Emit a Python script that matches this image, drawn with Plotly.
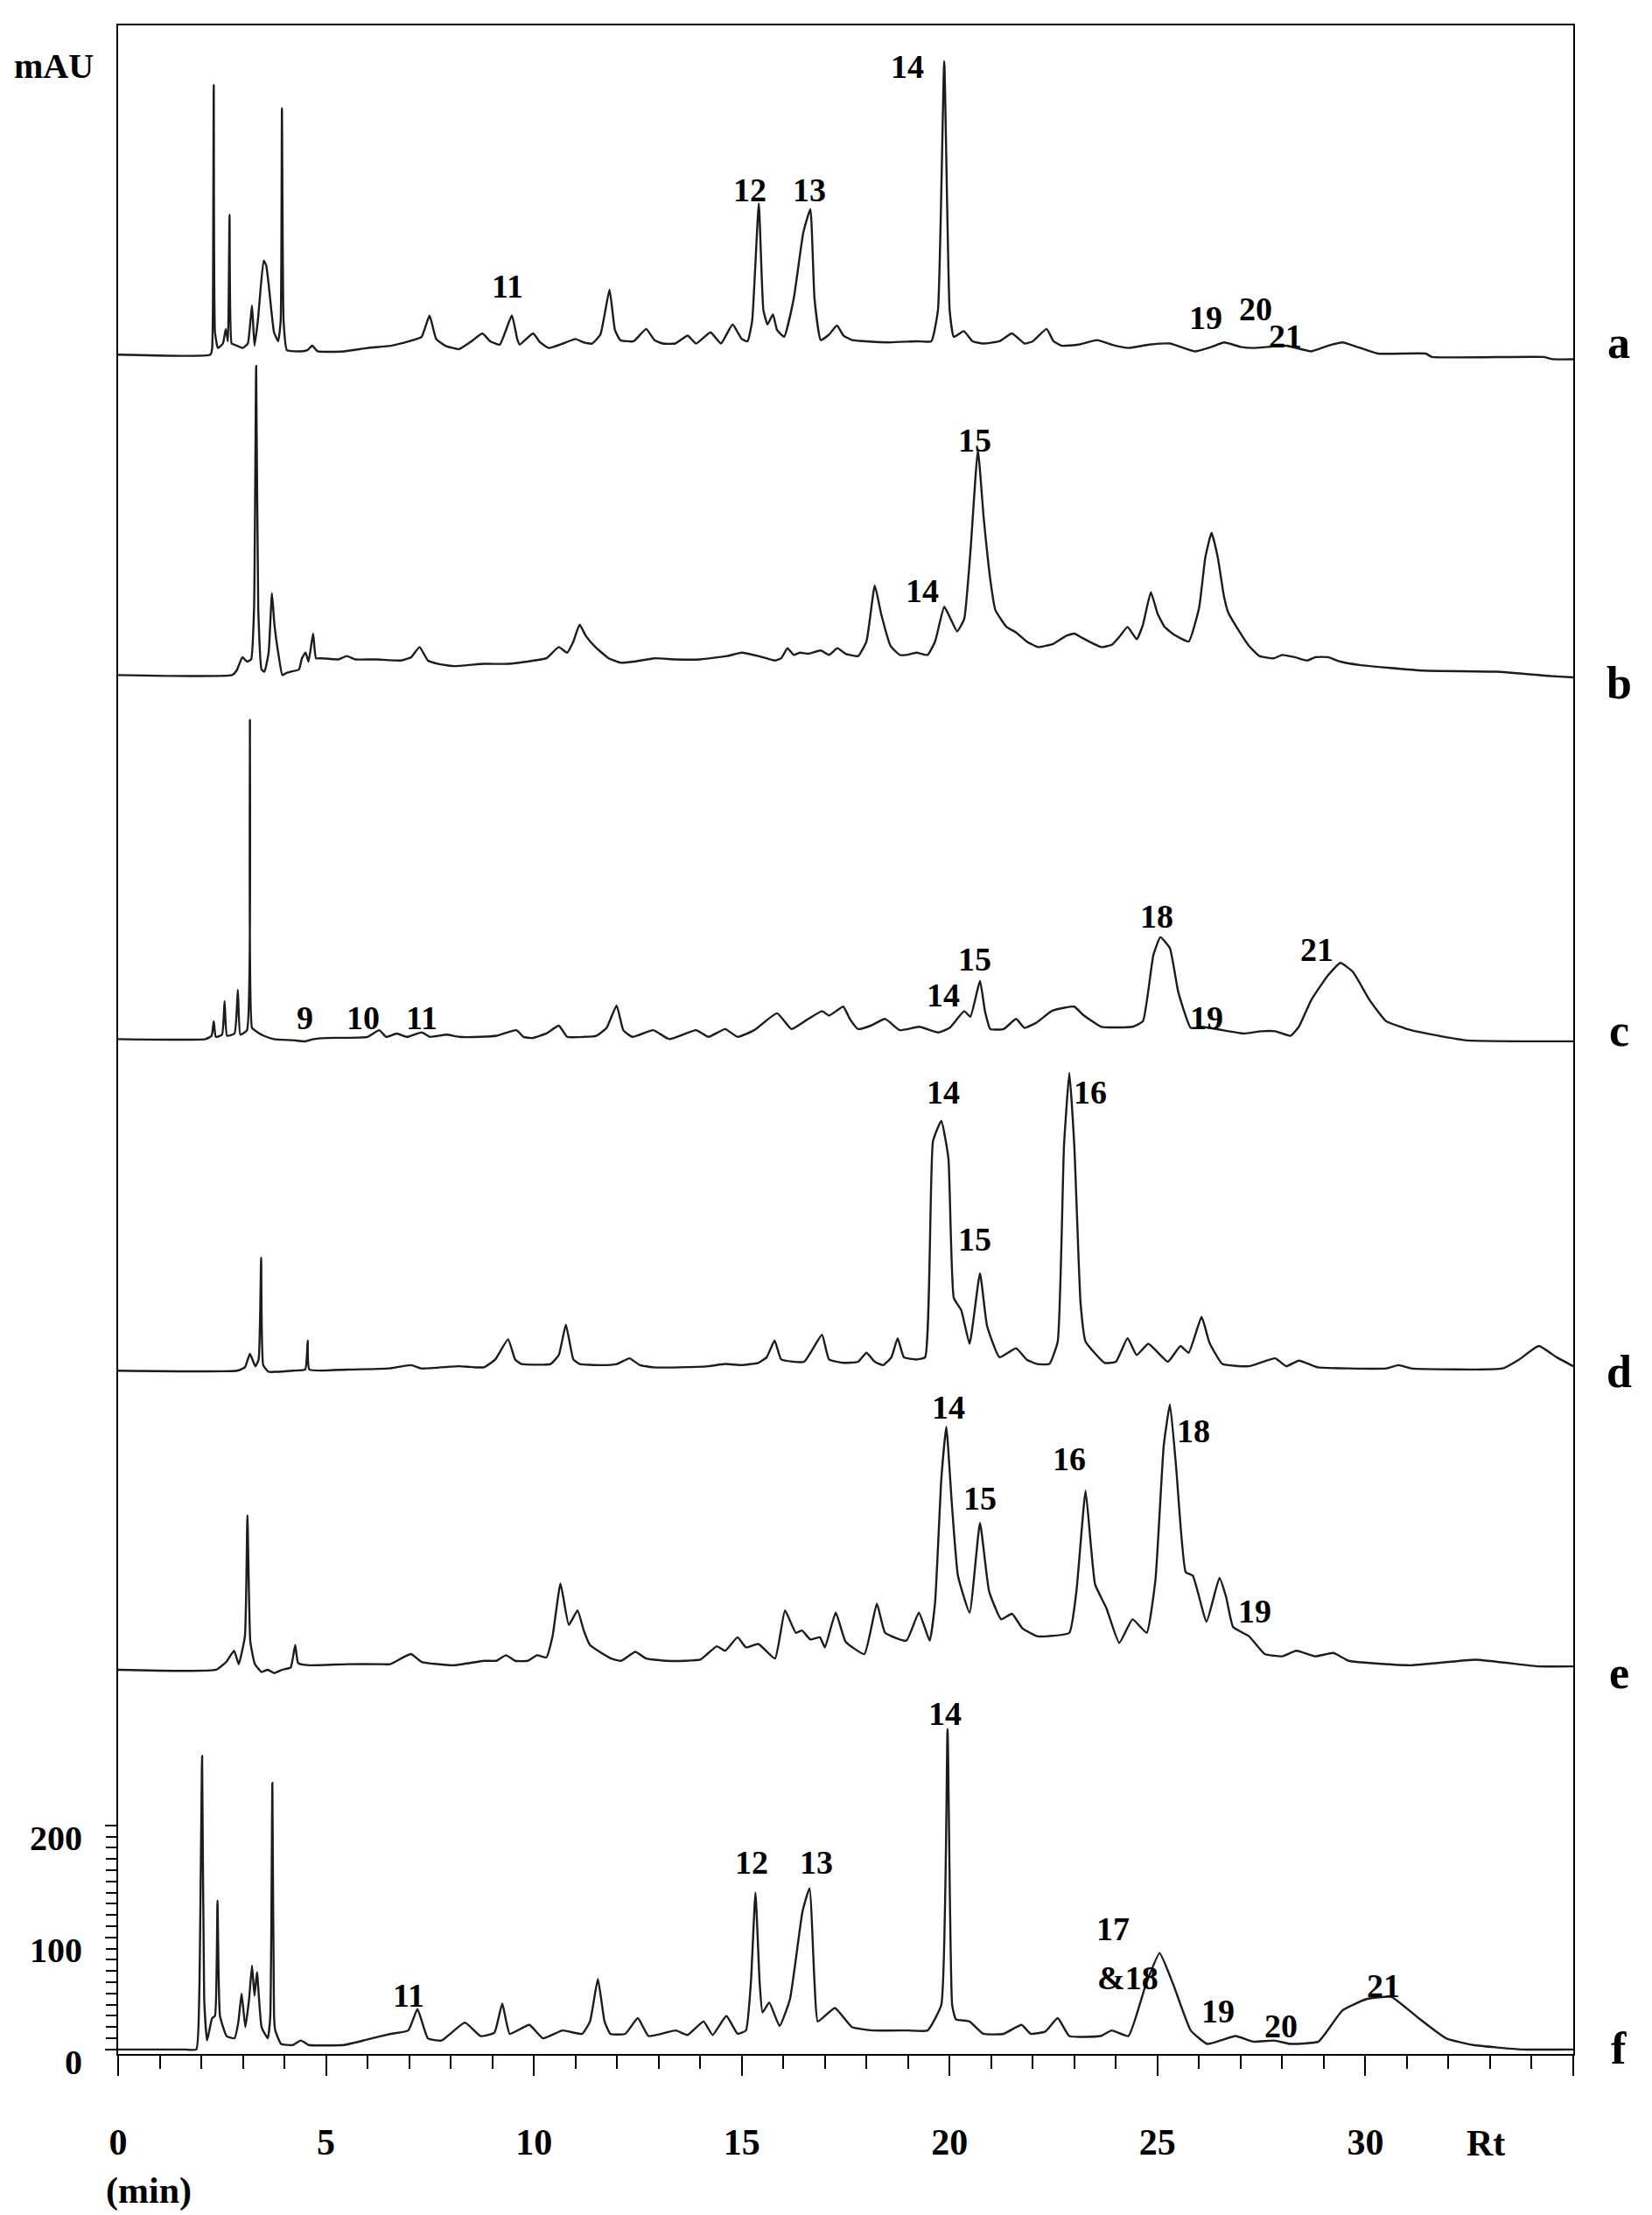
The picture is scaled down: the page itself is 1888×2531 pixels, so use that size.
import numpy as np
import plotly.graph_objects as go

# chromatograms: (retention time in min, signal in mAU above the trace's own baseline)
trace_a = [(0, 0), (2.22, 0), (2.26, 5), (2.28, 39), (2.30, 241), (2.33, 20), (2.40, 6), (2.52, 10),
           (2.59, 23), (2.64, 12), (2.68, 125), (2.73, 10), (2.80, 9), (3.0, 6), (3.12, 10), (3.22, 44),
           (3.28, 8), (3.36, 30), (3.50, 84), (3.56, 80), (3.62, 63), (3.75, 20), (3.85, 12), (3.91, 30),
           (3.94, 220), (3.98, 30), (4.06, 4), (4.4, 3), (4.55, 4), (4.67, 8), (4.8, 3), (5.43, 3),
           (6.0, 6), (6.56, 8), (7.0, 12), (7.3, 16), (7.49, 35), (7.65, 14), (7.87, 8), (8.2, 5),
           (8.5, 12), (8.76, 19), (8.95, 12), (9.18, 9), (9.47, 35), (9.6, 14), (9.66, 9), (9.98, 19),
           (10.15, 11), (10.36, 6), (10.7, 10), (11.0, 14), (11.2, 11), (11.4, 10), (11.6, 18),
           (11.82, 58), (11.95, 22), (12.08, 13), (12.4, 12), (12.7, 23), (12.9, 13), (13.1, 10),
           (13.4, 10), (13.7, 17), (13.9, 10), (14.25, 20), (14.5, 10), (14.78, 27), (15.0, 14),
           (15.14, 12), (15.25, 30), (15.41, 135), (15.52, 40), (15.62, 27), (15.75, 36), (15.85, 22),
           (16.02, 16), (16.25, 50), (16.48, 109), (16.65, 130), (16.75, 50), (16.9, 13), (17.1, 18),
           (17.29, 26), (17.45, 17), (17.66, 13), (18.5, 11), (19.2, 12), (19.56, 12), (19.72, 40),
           (19.87, 262), (20.0, 40), (20.1, 16), (20.34, 21), (20.55, 12), (20.8, 10), (21.2, 12),
           (21.5, 19), (21.8, 10), (22.0, 12), (22.33, 23), (22.5, 12), (22.7, 8), (23.1, 9),
           (23.55, 13), (23.9, 9), (24.3, 6), (24.8, 9), (25.3, 10), (25.9, 3), (26.3, 7), (26.6, 11),
           (27.0, 7), (27.3, 6), (28.1, 8), (28.7, 3), (29.1, 8), (29.45, 11), (29.8, 7), (30.3, 1),
           (31.45, 1), (31.6, -2), (34.3, -2), (34.5, -4), (35.0, -4)]

trace_b = [(0, 0), (2.74, 0), (2.85, 4), (2.99, 16), (3.1, 12), (3.2, 14), (3.27, 60), (3.32, 276),
           (3.37, 60), (3.45, 5), (3.52, 3), (3.62, 20), (3.70, 73), (3.76, 45), (3.85, 20), (3.95, 0),
           (4.05, 2), (4.15, 3), (4.35, 5), (4.42, 15), (4.51, 20), (4.58, 12), (4.69, 37), (4.76, 15),
           (4.9, 15), (5.3, 14), (5.5, 17), (5.7, 14), (6.2, 14), (6.8, 13), (7.05, 16), (7.25, 25),
           (7.45, 13), (7.7, 10), (8.06, 8), (8.8, 10), (9.4, 10), (9.83, 12), (10.3, 15), (10.6, 25),
           (10.8, 20), (10.95, 30), (11.1, 45), (11.25, 35), (11.48, 25), (11.8, 15), (12.1, 11),
           (12.4, 12), (12.9, 15), (13.4, 14), (14.0, 14), (14.65, 17), (15.0, 20), (15.4, 17),
           (15.8, 13), (15.95, 15), (16.1, 24), (16.25, 18), (16.4, 20), (16.6, 19), (16.9, 22),
           (17.1, 18), (17.3, 24), (17.5, 19), (17.8, 17), (18.0, 30), (18.2, 80), (18.35, 55),
           (18.58, 26), (18.8, 18), (18.96, 18), (19.2, 20), (19.47, 18), (19.65, 30), (19.87, 61),
           (20.0, 52), (20.18, 39), (20.35, 50), (20.5, 110), (20.68, 201), (20.82, 140), (20.99, 82),
           (21.1, 58), (21.37, 43), (21.6, 38), (21.85, 30), (22.13, 25), (22.5, 28), (22.8, 35),
           (23.0, 37), (23.2, 33), (23.65, 25), (23.9, 27), (24.1, 35), (24.28, 43), (24.5, 32),
           (24.65, 45), (24.84, 74), (25.0, 55), (25.17, 43), (25.4, 36), (25.75, 30), (26.0, 60),
           (26.15, 105), (26.3, 127), (26.45, 105), (26.6, 70), (26.7, 56), (26.95, 40), (27.2, 26),
           (27.45, 17), (27.8, 15), (28.0, 18), (28.3, 16), (28.6, 13), (28.8, 16), (29.1, 16),
           (29.4, 12), (29.86, 9), (31.4, 4), (33.15, 3), (34.5, -1), (35.0, -2)]

trace_c = [(0, 0), (2.1, 0), (2.25, 3), (2.3, 16), (2.35, 2), (2.5, 4), (2.56, 34), (2.62, 3),
           (2.8, 5), (2.88, 44), (2.94, 4), (3.1, 8), (3.17, 285), (3.22, 10), (3.32, 7), (3.5, 3),
           (3.75, 0), (4.2, -1), (4.5, -2), (4.7, 0), (5.0, 1), (6.0, 2), (6.28, 8), (6.45, 2),
           (6.7, 5), (6.95, 2), (7.3, 6), (7.5, 2), (7.9, 4), (8.2, 2), (8.7, 2), (9.1, 3), (9.58, 8),
           (9.75, 2), (9.96, 1), (10.3, 5), (10.6, 12), (10.8, 2), (11.2, 2), (11.5, 3), (11.75, 10),
           (11.99, 30), (12.15, 8), (12.37, 2), (12.87, 8), (13.26, 0), (13.9, 8), (14.2, 2),
           (14.6, 9), (14.9, 2), (15.3, 8), (15.85, 23), (16.2, 9), (16.6, 18), (16.93, 25),
           (17.1, 21), (17.44, 29), (17.6, 18), (17.8, 9), (18.1, 12), (18.45, 18), (18.8, 8),
           (19.27, 11), (19.72, 6), (20.0, 10), (20.35, 25), (20.5, 20), (20.73, 52), (20.85, 25),
           (20.98, 9), (21.3, 9), (21.6, 18), (21.8, 10), (22.1, 15), (22.45, 25), (22.76, 28),
           (23.0, 29), (23.2, 22), (23.65, 11), (24.4, 11), (24.65, 16), (24.9, 75), (25.07, 91),
           (25.3, 81), (25.5, 42), (25.8, 10), (26.06, 11), (26.56, 8), (27.07, 5), (27.5, 7),
           (27.83, 7), (28.2, 3), (28.4, 11), (28.7, 35), (29.1, 57), (29.4, 68), (29.7, 60),
           (30.1, 35), (30.5, 16), (31.1, 8), (32.4, -1), (35.0, -2)]

trace_d = [(0, 0), (2.86, 0), (3.05, 3), (3.17, 15), (3.3, 4), (3.38, 10), (3.44, 101), (3.49, 5),
           (3.62, -1), (3.8, -1), (4.2, 0), (4.5, 1), (4.56, 27), (4.6, 1), (5.5, 1), (6.5, 2),
           (7.05, 5), (7.3, 2), (8.2, 4), (8.8, 3), (9.07, 10), (9.38, 28), (9.55, 10), (9.7, 6),
           (10.4, 6), (10.6, 14), (10.77, 41), (10.95, 10), (11.1, 6), (11.6, 5), (12.0, 6),
           (12.3, 11), (12.55, 5), (12.87, 3), (13.5, 3), (14.2, 4), (14.6, 6), (15.0, 5), (15.4, 7),
           (15.6, 12), (15.79, 27), (15.95, 10), (16.5, 8), (16.93, 32), (17.1, 10), (17.45, 7),
           (17.8, 8), (18.0, 16), (18.2, 8), (18.4, 5), (18.6, 12), (18.75, 29), (18.9, 12),
           (19.2, 10), (19.41, 12), (19.6, 205), (19.8, 223), (19.97, 190), (20.1, 65), (20.28, 54),
           (20.48, 24), (20.73, 87), (20.9, 40), (21.2, 12), (21.6, 20), (21.85, 10), (22.1, 6),
           (22.4, 6), (22.6, 26), (22.75, 200), (22.88, 266), (23.0, 200), (23.15, 60), (23.27, 26),
           (23.73, 7), (24.0, 8), (24.28, 29), (24.5, 14), (24.78, 24), (25.25, 8), (25.55, 22),
           (25.75, 16), (26.06, 48), (26.25, 25), (26.56, 6), (27.2, 4), (27.83, 11), (28.1, 4),
           (28.4, 9), (28.85, 3), (29.6, 2), (30.5, 2), (30.8, 5), (31.1, 2), (33.3, 2), (33.7, 10),
           (34.17, 22), (34.6, 12), (35.0, 4)]

trace_e = [(0, 0), (2.36, 0), (2.6, 7), (2.79, 17), (2.9, 5), (3.05, 30), (3.11, 138), (3.18, 25),
           (3.29, 5), (3.45, -2), (3.6, 0), (3.75, -3), (3.95, 0), (4.15, 2), (4.26, 22), (4.33, 6),
           (4.6, 4), (5.5, 5), (6.3, 5), (6.54, 5), (7.04, 14), (7.3, 7), (8.06, 4), (8.8, 8),
           (9.1, 8), (9.33, 13), (9.55, 8), (9.85, 8), (10.08, 13), (10.3, 11), (10.45, 30),
           (10.64, 77), (10.84, 40), (11.05, 53), (11.2, 35), (11.35, 22), (11.86, 10), (12.1, 8),
           (12.44, 16), (12.7, 10), (13.2, 8), (13.64, 8), (14.0, 9), (14.2, 15), (14.4, 21),
           (14.6, 17), (14.9, 29), (15.1, 20), (15.4, 23), (15.8, 10), (16.04, 53), (16.3, 33),
           (16.45, 35), (16.65, 27), (16.88, 29), (17.0, 20), (17.26, 51), (17.5, 25), (17.95, 14),
           (18.25, 59), (18.45, 33), (18.96, 26), (19.26, 51), (19.52, 26), (19.65, 60), (19.8, 170),
           (19.92, 217), (20.05, 150), (20.2, 84), (20.48, 51), (20.73, 131), (20.95, 70),
           (21.24, 45), (21.5, 50), (21.75, 37), (22.1, 30), (22.38, 30), (22.88, 33), (23.05, 70),
           (23.27, 160), (23.4, 110), (23.5, 76), (23.77, 55), (24.08, 24), (24.4, 45), (24.74, 33),
           (24.95, 80), (25.15, 200), (25.3, 237), (25.45, 180), (25.68, 87), (25.85, 84),
           (26.18, 43), (26.49, 82), (26.65, 65), (26.82, 38), (27.2, 30), (27.58, 14), (28.0, 12),
           (28.34, 17), (28.8, 12), (29.23, 15), (29.6, 8), (31.1, 4), (32.65, 9), (34.17, 3),
           (35.0, 3)]

trace_f = [(0, 0), (1.6, 0), (1.88, 0), (1.95, 45), (2.02, 262), (2.07, 45), (2.14, 8), (2.26, 28),
           (2.33, 30), (2.39, 133), (2.45, 30), (2.61, 12), (2.8, 10), (2.89, 24), (2.97, 50),
           (3.06, 20), (3.15, 45), (3.22, 75), (3.28, 48), (3.34, 69), (3.45, 20), (3.6, 10),
           (3.66, 30), (3.71, 238), (3.75, 30), (3.78, 17), (3.92, 5), (4.2, 4), (4.39, 8), (4.5, 6),
           (4.58, 4), (5.43, 4), (6.0, 9), (6.56, 14), (6.98, 17), (7.2, 36), (7.45, 10), (7.78, 8),
           (8.34, 24), (8.72, 12), (9.05, 15), (9.24, 41), (9.42, 14), (9.89, 22), (10.22, 10),
           (10.69, 17), (11.16, 14), (11.35, 25), (11.54, 63), (11.7, 25), (11.84, 14), (12.2, 14),
           (12.5, 28), (12.76, 12), (13.41, 17), (13.7, 13), (14.08, 25), (14.3, 13), (14.63, 30),
           (14.9, 14), (15.1, 17), (15.22, 60), (15.33, 140), (15.43, 60), (15.5, 33), (15.66, 42),
           (15.91, 21), (16.16, 45), (16.46, 123), (16.63, 144), (16.75, 60), (16.83, 25),
           (17.24, 37), (17.65, 20), (18.15, 17), (19.0, 17), (19.47, 17), (19.8, 40), (19.95, 286),
           (20.06, 40), (20.15, 27), (20.48, 25), (20.81, 14), (21.3, 14), (21.73, 22), (21.95, 14),
           (22.3, 16), (22.6, 28), (22.88, 12), (23.63, 12), (23.9, 17), (24.3, 12), (24.72, 58),
           (25.05, 86), (25.38, 58), (25.8, 17), (26.2, 5), (26.88, 12), (27.3, 7), (27.8, 8),
           (28.2, 5), (28.87, 7), (29.45, 35), (30.03, 45), (30.62, 47), (31.28, 28), (31.94, 10),
           (32.6, 4), (33.77, 0), (35.0, 0)]

# peak numbers written above the traces: (text, time, height on the mAU axis)
labels_a = [("11", 9.37, 1574), ("12", 15.2, 1660), ("13", 16.63, 1660), ("14", 18.99, 1770),
            ("19", 26.17, 1546), ("20", 27.35, 1554), ("21", 28.08, 1530)]
labels_b = [("14", 19.35, 1302), ("15", 20.61, 1437)]
labels_c = [("9", 4.5, 921), ("10", 5.9, 921), ("11", 7.3, 921), ("14", 19.85, 941),
            ("15", 20.61, 973), ("18", 24.99, 1012), ("19", 26.19, 921), ("21", 28.84, 982)]
labels_d = [("14", 19.85, 855), ("16", 23.39, 855), ("15", 20.61, 723)]
labels_e = [("14", 19.98, 573), ("18", 25.87, 552), ("16", 22.88, 527), ("15", 20.74, 492),
            ("19", 27.33, 391)]
labels_f = [("11", 6.98, 48), ("12", 15.24, 167), ("13", 16.79, 167), ("14", 19.89, 300),
            ("17", 23.92, 108), ("&18", 24.29, 64), ("19", 26.46, 34), ("20", 27.96, 21),
            ("21", 30.44, 57)]

sample_names = ["a", "b", "c", "d", "e", "f"]
x_ticks = [0, 5, 10, 15, 20, 25, 30, 35]
x_tick_text = ["0", "5", "10", "15", "20", "25", "30", ""]
y_ticks = [0, 100, 200]

# vertical stacking of the six chromatograms (mAU units)
offsets = {"a": 1513, "b": 1227, "c": 902, "d": 606, "e": 339, "f": 0}
# sample letters at the right, in paper coordinates
name_y = {"a": 0.8434, "b": 0.6760, "c": 0.5047, "d": 0.3361, "e": 0.1877, "f": 0.0030}

traces = {"a": trace_a, "b": trace_b, "c": trace_c, "d": trace_d, "e": trace_e, "f": trace_f}
labels = {"a": labels_a, "b": labels_b, "c": labels_c, "d": labels_d, "e": labels_e, "f": labels_f}

FONT = "Liberation Serif, Times New Roman, serif"


def bold(size):
    return dict(family=FONT, size=size, color="black", weight="bold")


fig = go.Figure()
annotations = []
for name in sample_names:
    t, s = zip(*traces[name])
    fig.add_trace(go.Scatter(
        x=list(t), y=list(np.array(s) + offsets[name]),
        mode="lines", line=dict(color="#1c1c1c", width=2.4, shape="spline", smoothing=0.4),
        showlegend=False, hoverinfo="skip",
    ))
    for text, tx, ty in labels[name]:
        annotations.append(dict(x=tx, y=ty, text=text, showarrow=False, xanchor="center",
                                yanchor="middle", font=bold(38)))
    annotations.append(dict(x=1.0313, y=name_y[name], xref="paper", yref="paper", text=name,
                            showarrow=False, xanchor="center", yanchor="middle", font=bold(52)))

annotations += [
    dict(x=-0.0439, y=0.9801, xref="paper", yref="paper", text="mAU", showarrow=False,
         xanchor="center", yanchor="middle", font=bold(40)),
    dict(x=0.9399, y=-0.0440, xref="paper", yref="paper", text="Rt", showarrow=False,
         xanchor="center", yanchor="middle", font=bold(42)),
    dict(x=0.0210, y=-0.0673, xref="paper", yref="paper", text="(min)", showarrow=False,
         xanchor="center", yanchor="middle", font=bold(42)),
]

fig.update_layout(
    width=1888, height=2531,
    margin=dict(l=135, r=90, t=29, b=184),
    paper_bgcolor="white", plot_bgcolor="white",
    annotations=annotations,
    xaxis=dict(
        range=[0, 35], showgrid=False, zeroline=False,
        showline=True, linecolor="black", linewidth=2, mirror=True,
        ticks="outside", ticklen=23, tickwidth=2, tickcolor="black",
        tickmode="array", tickvals=x_ticks, ticktext=x_tick_text,
        tickfont=bold(42), ticklabelstandoff=40,
        minor=dict(ticks="outside", ticklen=15, tickwidth=1.5, tickcolor="black", dtick=1),
    ),
    yaxis=dict(
        range=[-4, 1807], showgrid=False, zeroline=False,
        showline=True, linecolor="black", linewidth=2, mirror=True,
        ticks="outside", ticklen=13, tickwidth=2, tickcolor="black",
        tickmode="array", tickvals=y_ticks, ticktext=[str(v) for v in y_ticks],
        tickfont=bold(40), ticklabelstandoff=18, ticklabelshift=14,
        minor=dict(ticks="outside", ticklen=12, tickwidth=1.5, tickcolor="black",
                   tickmode="array", tickvals=[v for v in range(10, 200, 10) if v != 100]),
    ),
)

fig.write_html("out.html", config={"displayModeBar": False},
               post_script="document.body.style.margin='0px';")
